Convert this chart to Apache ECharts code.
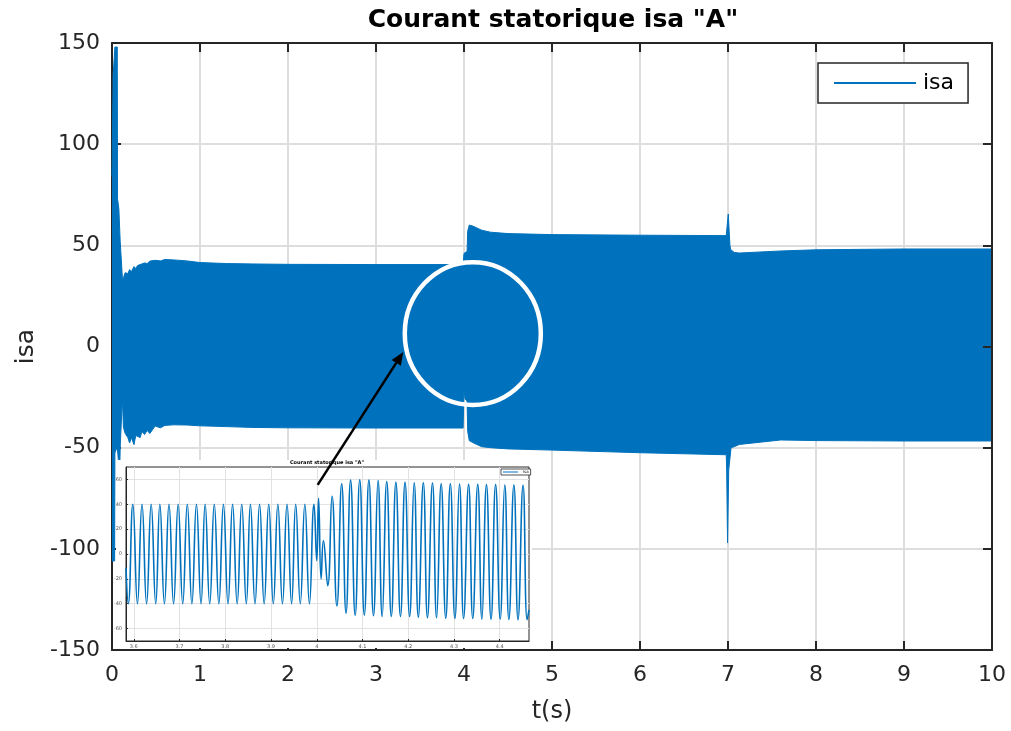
<!DOCTYPE html>
<html>
<head>
<meta charset="utf-8">
<title>Courant statorique isa</title>
<script src="https://cdn.jsdelivr.net/npm/echarts@6/dist/echarts.min.js"></script>
<style>
  html, body { margin: 0; padding: 0; background: #fff; }
  #chart { width: 1011px; height: 731px; }
</style>
</head>
<body>
<div id="chart"></div>
<script>
// Stator current isa over the full 0-10 s run: the 50 Hz oscillation is so dense
// at this scale that it is drawn as the band between its upper and lower envelope.
// Rows: [t (s), upper envelope (A), lower envelope (A)]
const envelope = [
  [0.000, 84, -106],
  [0.010, 84, -106],
  [0.013, 134, -106],
  [0.030, 134, -106],
  [0.033, 148, -52.6],
  [0.060, 148, -49.5],
  [0.063, 73, -49.5],
  [0.072, 73, -56],
  [0.078, 68, -56],
  [0.090, 68, -57],
  [0.093, 52, -50],
  [0.112, 52, -49.5],
  [0.118, 34, -25.5],
  [0.124, 33, -26],
  [0.130, 34, -40],
  [0.150, 36.5, -43],
  [0.180, 36, -45],
  [0.200, 38, -47.7],
  [0.220, 37, -45],
  [0.250, 39.5, -48.5],
  [0.270, 38.5, -44],
  [0.290, 40, -43.7],
  [0.320, 40.5, -45],
  [0.340, 39.8, -42],
  [0.370, 41.3, -43.5],
  [0.400, 41, -41.5],
  [0.430, 42.2, -43],
  [0.450, 42.5, -42.5],
  [0.490, 42.6, -39.3],
  [0.550, 42.3, -40.2],
  [0.600, 43, -39],
  [0.700, 42.8, -38.7],
  [0.850, 42.3, -38.8],
  [1.000, 41.5, -39.2],
  [1.300, 41, -39.6],
  [1.600, 40.8, -40],
  [2.000, 40.6, -40.2],
  [3.000, 40.5, -40.3],
  [3.990, 40.5, -40.3],
  [4.000, 46, -21],
  [4.006, 46, -21],
  [4.012, 46.5, -26],
  [4.035, 47, -27],
  [4.042, 57, -42],
  [4.060, 60, -46.5],
  [4.100, 59.5, -47.5],
  [4.200, 57.5, -49.5],
  [4.300, 56.5, -50],
  [4.500, 55.8, -50.6],
  [5.000, 55.3, -51.2],
  [6.000, 55, -52.5],
  [6.980, 54.8, -53.5],
  [6.985, 54.8, -61],
  [6.995, 54.8, -97],
  [7.003, 65.5, -97],
  [7.008, 65.5, -61],
  [7.018, 65.5, -61],
  [7.022, 50, -61],
  [7.030, 48, -61],
  [7.035, 47.7, -50],
  [7.070, 46.5, -49.5],
  [7.130, 46.2, -48.4],
  [7.600, 47.2, -46.2],
  [8.000, 47.8, -46.5],
  [9.000, 48.2, -46.7],
  [10.000, 48.2, -46.7]
];

// Detail of the load step around t = 4 s: successive peaks and troughs [t (s), isa (A)]
const insetSamples = [
  [3.583, -11], [3.588, -40],
  [3.598, 40], [3.608, -40], [3.618, 40], [3.628, -40], [3.638, 40], [3.648, -40],
  [3.657, 40], [3.667, -40], [3.677, 40], [3.687, -40], [3.697, 40], [3.707, -40],
  [3.717, 40], [3.727, -40], [3.737, 40], [3.747, -40], [3.756, 40], [3.766, -40],
  [3.776, 40], [3.786, -40], [3.796, 40], [3.806, -40], [3.816, 40], [3.826, -40],
  [3.836, 40], [3.846, -40], [3.855, 40], [3.865, -40], [3.875, 40], [3.885, -40],
  [3.895, 40], [3.905, -40], [3.915, 40], [3.925, -40], [3.935, 40], [3.945, -40],
  [3.954, 40], [3.964, -40], [3.974, 40], [3.984, -40], [3.994, 40],
  [4.000, -5.4], [4.004, 44.9], [4.0095, -20], [4.0146, 10.8], [4.024, -25.5],
  [4.0335, 46.5], [4.044, -41.7], [4.0545, 56.5], [4.064, -47.6],
  [4.074, 59.4], [4.084, -49.2], [4.094, 59.7], [4.104, -49.2], [4.114, 59.4],
  [4.124, -49.7], [4.134, 59], [4.143, -50.3], [4.153, 58.2], [4.163, -50.3],
  [4.173, 57.6], [4.183, -50.3], [4.193, 57.6], [4.203, -50.3], [4.213, 57.3],
  [4.222, -50.8], [4.233, 57.3], [4.242, -51.3], [4.253, 57], [4.262, -51.3],
  [4.272, 56.5], [4.282, -51.6], [4.292, 56.5], [4.302, -51.9], [4.312, 56.3],
  [4.321, -51.9], [4.332, 56], [4.341, -51.9], [4.352, 56], [4.361, -52.4],
  [4.371, 55.8], [4.381, -52.4], [4.391, 55.8], [4.401, -52.4], [4.411, 55.5],
  [4.420, -52.6], [4.431, 55.5], [4.440, -52.9], [4.451, 55.3], [4.460, -52.9],
  [4.464, -45]
];

// Axis ranges and tick values
const mainT = { min: 0, max: 10, step: 1 };
const mainI = { min: -150, max: 150, step: 50 };
const insetTRange = [3.583, 4.464];
const insetIRange = [-70, 70];
const insetTTicks = [3.6, 3.7, 3.8, 3.9, 4, 4.1, 4.2, 4.3, 4.4];
const insetITicks = [-60, -40, -20, 0, 20, 40, 60];

// Annotation: zoom circle around the step and the arrow linking it to the detail panel
const focusCenter = [4.10, 6.4];      // (t, isa) on the main axes
const focusRadius = [0.773, 35.3];    // half-width in s, half-height in A
const arrowFrom = [4.002, 55.6];      // on the detail axes
const arrowTo = [3.31, -2.7];         // on the main axes

const TITLE = 'Courant statorique isa "A"';
const FONT = '"DejaVu Sans", "Liberation Sans", Arial, sans-serif';
const DARK = '#262626';
const BLUE = '#0072BD';
const GRID_GRAY = '#dddddd';

const chart = echarts.init(document.getElementById('chart'), null, { renderer: 'canvas' });

const upperData = envelope.map(r => [r[0], r[1]]);
const lowerData = envelope.map(r => [r[0], r[2]]);

function mirrorAxis(base) {
  return Object.assign({}, base, {
    axisLabel: { show: false },
    splitLine: { show: false },
    name: '',
    z: 3
  });
}

const mainXBase = {
  type: 'value', gridIndex: 0, min: mainT.min, max: mainT.max, interval: mainT.step,
  axisLine: { show: true, onZero: false, lineStyle: { color: DARK, width: 2 } },
  axisTick: { show: true, inside: true, length: 9, lineStyle: { color: DARK, width: 2 } },
  splitLine: { show: true, lineStyle: { color: GRID_GRAY, width: 2 } },
  axisLabel: { color: DARK, fontFamily: FONT, fontSize: 22, margin: 14 }
};
const mainYBase = {
  type: 'value', gridIndex: 0, min: mainI.min, max: mainI.max, interval: mainI.step,
  axisLine: { show: true, onZero: false, lineStyle: { color: DARK, width: 2 } },
  axisTick: { show: true, inside: true, length: 9, lineStyle: { color: DARK, width: 2 } },
  splitLine: { show: true, lineStyle: { color: GRID_GRAY, width: 2 } },
  axisLabel: { color: DARK, fontFamily: FONT, fontSize: 22, margin: 12 }
};

const option = {
  animation: false,
  backgroundColor: '#fff',
  title: [
    {
      text: TITLE, left: 548, top: 3, textAlign: 'center',
      textStyle: { fontFamily: FONT, fontWeight: 'bold', fontSize: 25, color: '#000' }
    },
    {
      text: TITLE, left: 322, top: 455, textAlign: 'center', z: 55,
      textStyle: { fontFamily: FONT, fontWeight: 'bold', fontSize: 5, color: '#000' }
    }
  ],
  legend: [
    {
      data: ['isa'], left: 818, top: 63, orient: 'vertical',
      icon: 'rect', itemWidth: 82, itemHeight: 2, itemGap: 4,
      padding: [9, 14, 9, 16],
      backgroundColor: '#fff', borderColor: DARK, borderWidth: 1.5, borderRadius: 0,
      textStyle: { fontFamily: FONT, fontSize: 22, color: '#000', padding: [0, 0, 0, 2] },
      selectedMode: false, z: 20
    },
    {
      data: ['isa'], left: 501, top: 469, orient: 'vertical',
      icon: 'rect', itemWidth: 15, itemHeight: 1, itemGap: 1,
      padding: [1, 2, 1, 2],
      backgroundColor: '#fff', borderColor: DARK, borderWidth: 0.8, borderRadius: 0,
      textStyle: { fontFamily: FONT, fontSize: 4, color: '#000' },
      selectedMode: false, z: 56
    }
  ],
  grid: [
    { left: 112, right: 19, top: 43, bottom: 81, containLabel: false },
    {
      left: 126, top: 467, width: 403, height: 174, containLabel: false,
      show: true, backgroundColor: '#fff', borderColor: DARK, borderWidth: 1, z: 51
    }
  ],
  xAxis: [
    Object.assign({}, mainXBase, {
      position: 'bottom', name: 't(s)', nameLocation: 'middle', nameGap: 50,
      nameTextStyle: { fontFamily: FONT, fontSize: 24, color: DARK }
    }),
    mirrorAxis(Object.assign({}, mainXBase, { position: 'top' })),
    {
      type: 'value', gridIndex: 1, position: 'bottom', min: insetTRange[0], max: insetTRange[1], z: 52,
      axisLine: { show: true, onZero: false, lineStyle: { color: DARK, width: 1 } },
      axisTick: { show: true, inside: true, length: 2, customValues: insetTTicks, lineStyle: { color: DARK, width: 1 } },
      splitLine: { show: true, lineStyle: { color: '#e2e2e2', width: 1 } },
      axisLabel: { customValues: insetTTicks, color: '#555', fontFamily: FONT, fontSize: 5, margin: 3 }
    }
  ],
  yAxis: [
    Object.assign({}, mainYBase, {
      position: 'left', name: 'isa', nameLocation: 'middle', nameGap: 68, nameRotate: 90,
      nameTextStyle: { fontFamily: FONT, fontSize: 25, color: DARK }
    }),
    mirrorAxis(Object.assign({}, mainYBase, { position: 'right' })),
    {
      type: 'value', gridIndex: 1, position: 'left', min: insetIRange[0], max: insetIRange[1], z: 52,
      axisLine: { show: true, onZero: false, lineStyle: { color: DARK, width: 1 } },
      axisTick: { show: true, inside: true, length: 2, customValues: insetITicks, lineStyle: { color: DARK, width: 1 } },
      splitLine: { show: true, lineStyle: { color: '#e2e2e2', width: 1 } },
      axisLabel: { customValues: insetITicks, color: '#555', fontFamily: FONT, fontSize: 5, margin: 4 }
    }
  ],
  series: [
    {
      // upper half of the band; its fill overlaps the lower half across zero
      name: 'isa', type: 'line', xAxisIndex: 0, yAxisIndex: 0,
      data: upperData, symbol: 'none', silent: true, z: 2,
      lineStyle: { color: BLUE, width: 1 },
      itemStyle: { color: BLUE },
      areaStyle: { color: BLUE, opacity: 1, origin: -8 }
    },
    {
      name: 'isa (lower envelope)', type: 'line', xAxisIndex: 0, yAxisIndex: 0,
      data: lowerData, symbol: 'none', silent: true, z: 2,
      lineStyle: { color: BLUE, width: 1 },
      itemStyle: { color: BLUE },
      areaStyle: { color: BLUE, opacity: 1, origin: 8 }
    },
    {
      name: 'isa', type: 'line', xAxisIndex: 2, yAxisIndex: 2,
      data: insetSamples, symbol: 'none', smooth: 0.5, silent: true, z: 53,
      lineStyle: { color: BLUE, width: 1.6 },
      itemStyle: { color: BLUE }
    }
  ]
};

chart.setOption(option);

// Annotations placed from data coordinates
const mainFinder = { xAxisIndex: 0, yAxisIndex: 0 };
const insetFinder = { xAxisIndex: 2, yAxisIndex: 2 };
const c = chart.convertToPixel(mainFinder, focusCenter);
const cEdge = chart.convertToPixel(mainFinder, [focusCenter[0] + focusRadius[0], focusCenter[1] + focusRadius[1]]);
const rx = Math.abs(cEdge[0] - c[0]);
const ry = Math.abs(cEdge[1] - c[1]);

const p0 = chart.convertToPixel(insetFinder, arrowFrom);
const p1 = chart.convertToPixel(mainFinder, arrowTo);
const dx = p1[0] - p0[0], dy = p1[1] - p0[1];
const len = Math.hypot(dx, dy);
const ux = dx / len, uy = dy / len;
const headLen = 13, headHalf = 5.5;
const hb = [p1[0] - ux * headLen, p1[1] - uy * headLen];
const headPts = [
  [p1[0], p1[1]],
  [hb[0] - uy * headHalf, hb[1] + ux * headHalf],
  [hb[0] + uy * headHalf, hb[1] - ux * headHalf]
];

chart.setOption({
  graphic: [
    // white panel behind the detail plot
    { type: 'rect', z: 50, silent: true, shape: { x: 116, y: 460, width: 416, height: 188 }, style: { fill: '#fff' } },
    { type: 'ellipse', z: 60, silent: true, shape: { cx: c[0], cy: c[1], rx: rx, ry: ry }, style: { fill: 'none', stroke: '#fff', lineWidth: 4.5 } },
    { type: 'line', z: 61, silent: true, shape: { x1: p0[0], y1: p0[1], x2: hb[0], y2: hb[1] }, style: { stroke: '#000', lineWidth: 2.5 } },
    { type: 'polygon', z: 61, silent: true, shape: { points: headPts }, style: { fill: '#000' } }
  ]
});
</script>
</body>
</html>
